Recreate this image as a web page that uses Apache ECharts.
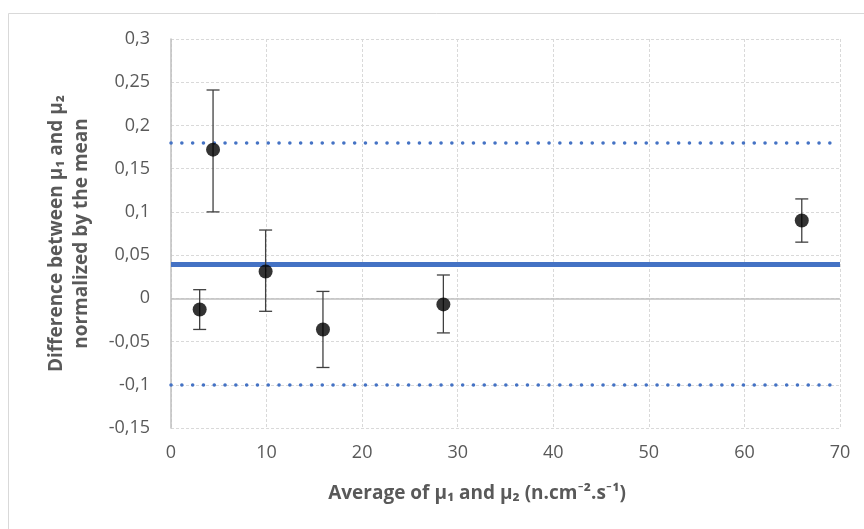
<!DOCTYPE html>
<html>
<head>
<meta charset="utf-8">
<script src="https://cdn.jsdelivr.net/npm/echarts@6/dist/echarts.min.js"></script>
<style>
  html, body { margin: 0; padding: 0; background: #fff; }
  #main { width: 864px; height: 529px; }
</style>
</head>
<body>
<div id="main"></div>
<script>
// measured points (average, normalized difference) and error bar ends
var avgValues = [3.0, 4.4, 9.9, 15.9, 28.5, 66.0];
var diffValues = [-0.013, 0.172, 0.031, -0.036, -0.007, 0.090];
var errTop = [0.010, 0.241, 0.079, 0.008, 0.027, 0.115];
var errBottom = [-0.036, 0.100, -0.015, -0.080, -0.040, 0.065];

var meanDiff = 0.04;
var upperLimit = 0.18;
var lowerLimit = -0.10;

var xTicks = [0, 10, 20, 30, 40, 50, 60, 70];
var yTicks = [-0.15, -0.1, -0.05, 0, 0.05, 0.1, 0.15, 0.2, 0.25, 0.3];

var points = avgValues.map(function (x, i) { return [x, diffValues[i]]; });
var bars = avgValues.map(function (x, i) { return [x, errBottom[i], errTop[i]]; });

var myChart = echarts.init(document.getElementById('main'));
var font = '"Open Sans", Lato, sans-serif';

option = {
    animation: false,
    backgroundColor: '#fff',
    grid: { left: 171, right: 24, top: 39, bottom: 101 },
    graphic: [{
        type: 'rect',
        shape: { x: 8.5, y: 13.5, width: 900, height: 600 },
        style: { fill: 'none', stroke: '#d9d9d9', lineWidth: 1 },
        silent: true
    }, {
        type: 'text',
        x: 477, y: 494,
        style: {
            text: 'Average of μ₁ and μ₂ (n.cm⁻².s⁻¹)',
            font: 'bold 19px ' + font,
            fill: '#595959',
            align: 'center',
            verticalAlign: 'middle'
        }
    }],
    xAxis: {
        type: 'value',
        min: xTicks[0],
        max: xTicks[xTicks.length - 1],
        interval: 10,
        axisLine: { show: false },
        axisTick: { show: false },
        axisLabel: { color: '#595959', fontSize: 18, fontFamily: font, margin: 16 },
        splitLine: { lineStyle: { color: '#d9d9d9', type: [3, 2], width: 1 } }
    },
    yAxis: {
        type: 'value',
        min: yTicks[0],
        max: yTicks[yTicks.length - 1],
        interval: 0.05,
        name: 'Difference between μ₁ and μ₂\nnormalized by the mean',
        nameLocation: 'middle',
        nameGap: 77,
        nameTextStyle: { color: '#595959', fontSize: 19, fontWeight: 'bold', fontFamily: font, lineHeight: 25 },
        axisLine: { show: true, lineStyle: { color: '#bfbfbf', width: 1.5 } },
        axisTick: { show: false },
        axisLabel: {
            color: '#595959', fontSize: 18, fontFamily: font, margin: 21,
            formatter: function (v) { return String(Math.round(v * 100) / 100).replace('.', ','); }
        },
        splitLine: { lineStyle: { color: '#d9d9d9', type: [3, 2], width: 1 } }
    },
    series: [{
        type: 'line',
        data: [],
        markLine: {
            silent: true,
            symbol: 'none',
            label: { show: false },
            data: [
                { yAxis: 0, lineStyle: { color: '#bfbfbf', width: 1.5, type: 'solid' } },
                { yAxis: upperLimit, lineStyle: { color: '#4472c4', width: 3.5, type: [0.1, 10.7], cap: 'round' } },
                { yAxis: lowerLimit, lineStyle: { color: '#4472c4', width: 3.5, type: [0.1, 10.7], cap: 'round' } },
                { yAxis: meanDiff, lineStyle: { color: '#4472c4', width: 5, type: 'solid' } }
            ]
        }
    }, {
        type: 'custom',
        data: bars,
        z: 5,
        renderItem: function (params, api) {
            var lo = api.coord([api.value(0), api.value(1)]);
            var hi = api.coord([api.value(0), api.value(2)]);
            var w = 6.5;
            var st = { stroke: '#404040', lineWidth: 1.3 };
            return {
                type: 'group',
                children: [
                    { type: 'line', shape: { x1: lo[0], y1: lo[1], x2: hi[0], y2: hi[1] }, style: st },
                    { type: 'line', shape: { x1: lo[0] - w, y1: lo[1], x2: lo[0] + w, y2: lo[1] }, style: st },
                    { type: 'line', shape: { x1: hi[0] - w, y1: hi[1], x2: hi[0] + w, y2: hi[1] }, style: st }
                ]
            };
        }
    }, {
        type: 'scatter',
        data: points,
        z: 10,
        symbol: 'circle',
        symbolSize: 14,
        itemStyle: { color: '#000' }
    }]
};
myChart.setOption(option);
</script>
</body>
</html>
